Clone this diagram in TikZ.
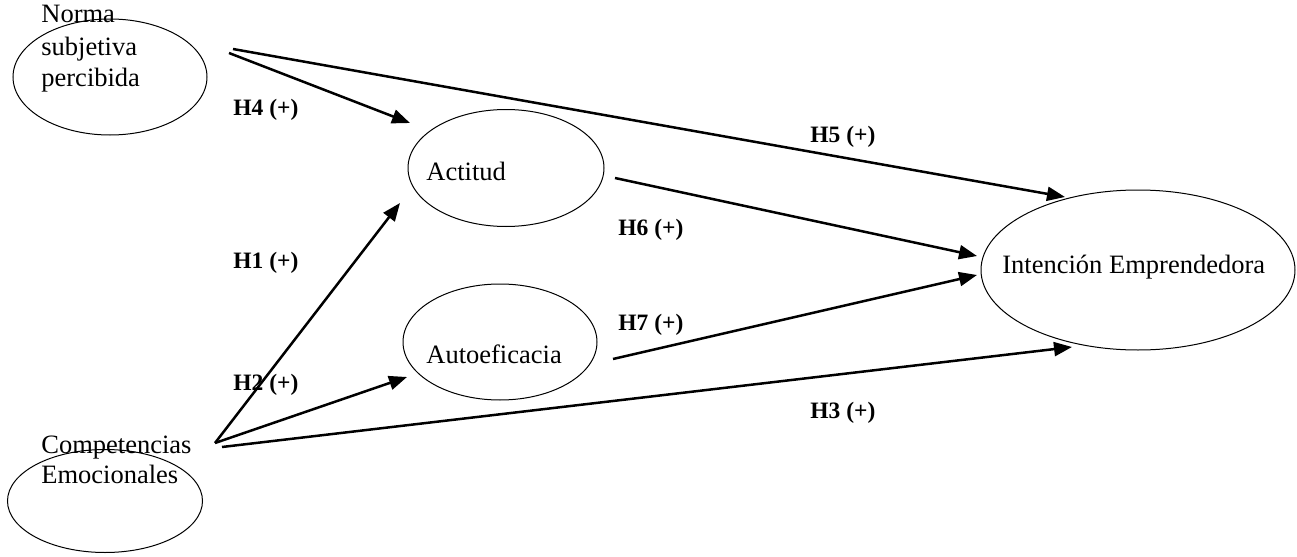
\documentclass[tikz,border=0pt]{standalone}
\usepackage{fontspec}
\setmainfont{Liberation Serif}
\usetikzlibrary{shapes.geometric,arrows.meta}
\tikzset{
  oval/.style={draw,ellipse,inner sep=0pt,line width=0.5pt},
  txt/.style={anchor=base west,inner sep=0pt,font=\fontsize{13.25}{15}\selectfont},
  hlabel/.style={anchor=west,inner sep=0pt,font=\fontsize{11.75}{14}\selectfont\bfseries},
  hyp/.style={line width=1.25pt,-{Triangle[length=9pt,width=7pt]}}
}
\begin{document}
\begin{tikzpicture}[x=0.5pt,y=-0.5pt]
  \useasboundingbox (0,0) rectangle (1297,557);
  % constructs
  \node[oval,minimum width=97pt,minimum height=58pt](norma)at(110,77){};
  \node[oval,minimum width=98pt,minimum height=58.5pt](actitud)at(506,168){};
  \node[oval,minimum width=97pt,minimum height=58pt](autoef)at(500,342){};
  \node[oval,minimum width=157pt,minimum height=80pt](intencion)at(1138,270){};
  \node[oval,minimum width=97.5pt,minimum height=51.5pt](compet)at(105,501){};
  \foreach \t/\y [count=\i] in {Norma/23,subjetiva/55,percibida/86}
    \node[txt](norma\i)at(41,\y){\t};
  \foreach \t/\y [count=\i] in {Competencias/453,Emocionales/483}
    \node[txt](compet\i)at(41,\y){\t};
  \node[txt](actitudtxt)at(426,180){Actitud};
  \node[txt](autoeftxt)at(426,363){Autoeficacia};
  \node[txt](intenciontxt)at(1002,273){Intención Emprendedora};
  % free ends of the paths
  \coordinate(n5)at(233,49);   \coordinate(i5)at(1065,197);
  \coordinate(n4)at(229,53);   \coordinate(a4)at(410,123);
  \coordinate(a6)at(615,178);  \coordinate(i6)at(977,256);
  \coordinate(e7)at(613,359);  \coordinate(i7)at(977,275);
  \coordinate(c1)at(215,443);  \coordinate(a1)at(400,203);
  \coordinate(e2)at(407,377);
  \coordinate(c3)at(222,447);  \coordinate(i3)at(1072,347);
  \foreach \s/\e in {n5/i5,n4/a4,a6/i6,e7/i7,c1/a1,c1/e2,c3/i3}
    \draw[hyp](\s)--(\e);
  % hypotheses
  \foreach \h/\x/\y in {4/233/110,5/810/137,6/618/230,1/233/263,7/618/325,2/233/385,3/810/413}
    \node[hlabel](h\h)at(\x,\y){H\h{} (+)};
\end{tikzpicture}
\end{document}
